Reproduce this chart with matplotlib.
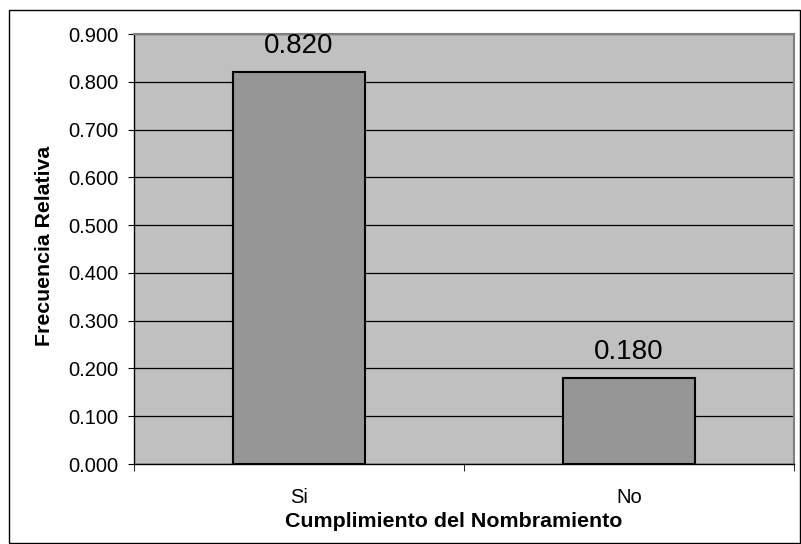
import matplotlib
matplotlib.use("Agg")
import matplotlib.pyplot as plt
from matplotlib.patches import Rectangle
from matplotlib.ticker import FixedLocator

categories = ["Si", "No"]
values = [0.820, 0.180]
yticks = [0.0, 0.1, 0.2, 0.3, 0.4, 0.5, 0.6, 0.7, 0.8, 0.9]

plt.rcParams['font.family'] = ['Liberation Sans', 'DejaVu Sans']

fig = plt.figure(figsize=(8.01, 5.44), dpi=100)
fig.patch.set_facecolor('white')
fig.patches.append(Rectangle((9/801, 1/544), 791/801, 533/544, transform=fig.transFigure,
                             fill=False, edgecolor='black', linewidth=1.0))

ax = fig.add_axes([134/801, 1 - 464/544, 660/801, 430/544])
ax.set_facecolor('#C0C0C0')

x = list(range(len(categories)))
ax.bar(x, values, width=0.4, color='#969696', edgecolor='black', linewidth=1.5, zorder=3)

ax.set_xlim(-0.5, len(categories) - 0.5)
ax.set_ylim(0, 0.9)
ax.set_yticks(yticks)
ax.set_yticklabels([f"{v:.3f}" for v in yticks], fontsize=14.5)
ax.yaxis.grid(True, color='black', linewidth=0.9, zorder=1)
ax.set_axisbelow(True)

ax.set_xticks(x)
ax.set_xticklabels(categories, fontsize=14.5)
ax.tick_params(axis='x', which='major', length=0, pad=17)
ax.xaxis.set_minor_locator(FixedLocator([-0.5, 0.5, 1.5]))
ax.tick_params(axis='x', which='minor', length=5, direction='out', color='black')
ax.tick_params(axis='y', length=4.5, direction='out', color='black', pad=7)

for s in ['top', 'right']:
    ax.spines[s].set_color('#808080')
    ax.spines[s].set_linewidth(1.5)
for s in ['left', 'bottom']:
    ax.spines[s].set_color('black')
    ax.spines[s].set_linewidth(1.0)

for xi, v in zip(x, values):
    ax.annotate(f"{v:.3f}", xy=(xi, v), xytext=(0, 14), textcoords='offset points',
                ha='center', va='baseline', fontsize=20, zorder=4)

ax.set_xlabel("Cumplimiento del Nombramiento", fontsize=15.4, fontweight='bold')
ax.xaxis.set_label_coords(0.485, -0.111)
ax.set_ylabel("Frecuencia Relativa", fontsize=15.3, fontweight='bold')
ax.yaxis.set_label_coords(-0.121, 0.507)

fig.savefig("out.png", dpi=100)
